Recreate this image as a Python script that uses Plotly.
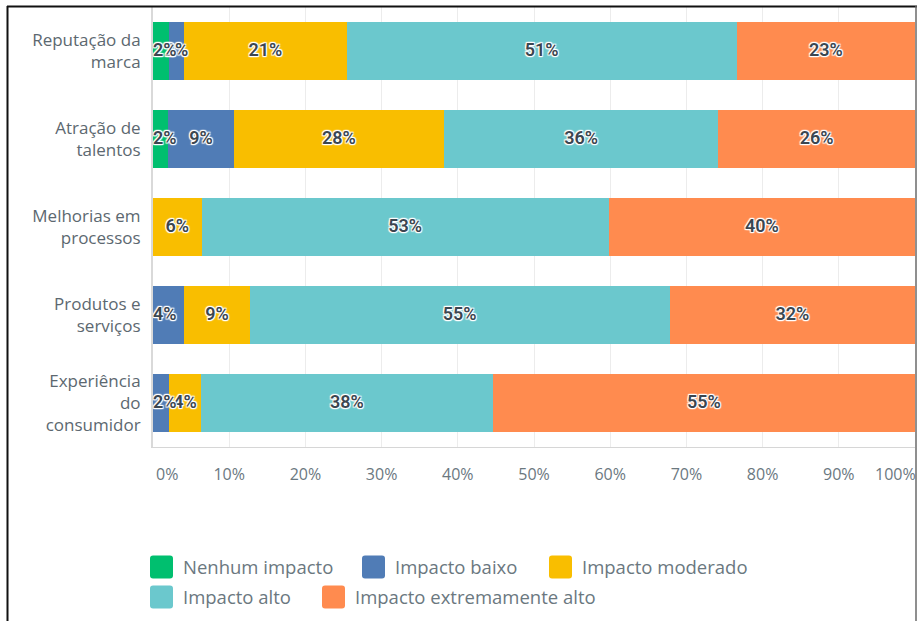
import plotly.graph_objects as go

# Survey categories (top to bottom)
categories = [
    "Reputação da<br>marca",
    "Atração de<br>talentos",
    "Melhorias em<br>processos",
    "Produtos e<br>serviços",
    "Experiência<br>do<br>consumidor",
]

# Share of answers per impact level (%), one value per category
nenhum_impacto = [2.1, 2.0, 0.0, 0.0, 0.0]
impacto_baixo = [2.0, 8.6, 0.0, 4.1, 2.1]
impacto_moderado = [21.3, 27.6, 6.4, 8.6, 4.2]
impacto_alto = [51.2, 36.0, 53.4, 55.1, 38.3]
impacto_extremo = [23.4, 25.8, 40.2, 32.2, 55.4]

series_names = [
    "Nenhum impacto",
    "Impacto baixo",
    "Impacto moderado",
    "Impacto alto",
    "Impacto extremamente alto",
]
series_values = [nenhum_impacto, impacto_baixo, impacto_moderado, impacto_alto, impacto_extremo]
series_colors = ["#00BF6F", "#507CB6", "#F9BE00", "#6BC8CD", "#FF8B4F"]

x_ticks = [10, 20, 30, 40, 50, 60, 70, 80, 90]

# Plot-area geometry in page pixels
W, H = 917, 621
PL, PR, PT, PB = 153, 915, 7, 447


def px(x):
    return (x - PL) / (PR - PL)


def py(y):
    return (PB - y) / (PB - PT)


GREY_TEXT = "#6b787f"
LABEL_FONT = "Open Sans"
HALO = ("1px 1px 1px #fff, -1px -1px 1px #fff, 1px -1px 1px #fff, -1px 1px 1px #fff, "
        "0 1px 1px #fff, 0 -1px 1px #fff")

fig = go.Figure()

# Stacked bars
for name, vals, color in zip(series_names, series_values, series_colors):
    fig.add_trace(
        go.Bar(
            name=name,
            y=categories,
            x=vals,
            orientation="h",
            marker=dict(color=color, line=dict(width=0)),
            hovertemplate="%{y}: %{x}%<extra>" + name + "</extra>",
        )
    )

# Percentage labels on each segment, drawn above all bars.
# A narrow segment sitting at the axis start gets its label pinned to the start
# so the text stays inside the plot.
label_traces = []
running = [0.0] * len(categories)
for name, vals in zip(series_names, series_values):
    xs, labels, positions = [], [], []
    for i, v in enumerate(vals):
        start = running[i]
        if start == 0 and 0 < v < 5:
            xs.append(start)
            positions.append("middle right")
        else:
            xs.append(start + v / 2)
            positions.append("middle center")
        labels.append(f"{round(v)}%" if v > 0 else "")
        running[i] += v
    label_traces.append(
        go.Scatter(
            x=xs,
            y=categories,
            mode="text",
            text=labels,
            textposition=positions,
            textfont=dict(family="Roboto", size=18, weight=600, color="#3b4650", shadow=HALO),
            hoverinfo="skip",
            showlegend=False,
        )
    )

# Earlier levels' labels sit on top where neighbours collide
for tr in reversed(label_traces):
    fig.add_trace(tr)

fig.update_layout(
    width=W,
    height=H,
    margin=dict(l=PL, r=W - PR, t=PT, b=H - PB, pad=0),
    barmode="stack",
    bargap=0.34,
    showlegend=False,
    plot_bgcolor="white",
    paper_bgcolor="white",
    font=dict(family=LABEL_FONT, color=GREY_TEXT),
)

fig.update_xaxes(
    range=[0, 100],
    tickvals=x_ticks,
    ticktext=[f"{t}%" for t in x_ticks],
    ticks="",
    ticklabelstandoff=13,
    tickfont=dict(family=LABEL_FONT, size=16, color=GREY_TEXT),
    showgrid=True,
    gridcolor="#ececec",
    gridwidth=1,
    zeroline=False,
    showline=True,
    linecolor="#d6d6d6",
    linewidth=1,
    fixedrange=True,
)

fig.update_yaxes(
    categoryorder="array",
    categoryarray=categories,
    autorange="reversed",
    ticks="",
    ticklabelstandoff=7,
    tickfont=dict(family=LABEL_FONT, size=17, color="#5c6870"),
    showgrid=False,
    zeroline=False,
    showline=True,
    linecolor="#d9d9d9",
    linewidth=2,
    fixedrange=True,
)

annotations = []
shapes = []

# End tick labels kept inside the frame
annotations.append(dict(x=0, y=py(474), xref="x", yref="paper", text="0%", showarrow=False,
                        xanchor="left", yanchor="middle", xshift=1,
                        font=dict(family=LABEL_FONT, size=16, color=GREY_TEXT)))
annotations.append(dict(x=100, y=py(474), xref="x", yref="paper", text="100%", showarrow=False,
                        xanchor="right", yanchor="middle", xshift=3,
                        font=dict(family=LABEL_FONT, size=16, color=GREY_TEXT)))

# Legend: rounded swatches with labels, flowing over two rows
legend_slots = [(150, 567), (362, 567), (549, 567), (150, 597), (322, 597)]
SW = 23


def rounded_rect(x0, y0, x1, y1, r):
    a, b, c, d = px(x0), px(x1), py(y0), py(y1)
    ar, br = px(x0 + r), px(x1 - r)
    cr, dr = py(y0 + r), py(y1 - r)
    return (f"M {ar},{c} L {br},{c} Q {b},{c} {b},{cr} L {b},{dr} Q {b},{d} {br},{d} "
            f"L {ar},{d} Q {a},{d} {a},{dr} L {a},{cr} Q {a},{c} {ar},{c} Z")


for (sx, sy), name, color in zip(legend_slots, series_names, series_colors):
    shapes.append(dict(type="path", xref="paper", yref="paper",
                       path=rounded_rect(sx, sy - SW / 2, sx + SW, sy + SW / 2, 3),
                       fillcolor=color, line=dict(width=0), layer="above"))
    annotations.append(dict(x=px(sx + SW + 8), y=py(sy - 1), xref="paper", yref="paper", text=name,
                            showarrow=False, xanchor="left", yanchor="middle",
                            font=dict(family=LABEL_FONT, size=18.5, color=GREY_TEXT)))

# Outer frame: dark top and left edges, grey right edge
shapes.append(dict(type="line", xref="paper", yref="paper", x0=px(7), x1=px(917), y0=py(6.5), y1=py(6.5),
                   line=dict(color="#111111", width=2)))
shapes.append(dict(type="line", xref="paper", yref="paper", x0=px(7.5), x1=px(7.5), y0=py(6), y1=py(621),
                   line=dict(color="#111111", width=2)))
shapes.append(dict(type="line", xref="paper", yref="paper", x0=px(916), x1=px(916), y0=py(6), y1=py(621),
                   line=dict(color="#6a6a6a", width=1.5)))

fig.update_layout(annotations=annotations, shapes=shapes)

fig.write_html("out.html")
